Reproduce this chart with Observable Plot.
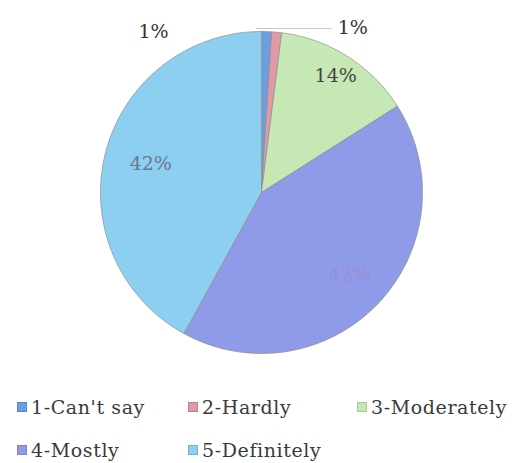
<!DOCTYPE html>
<html><head><meta charset="utf-8">
<script src="https://cdn.jsdelivr.net/npm/d3@7"></script>
<script src="https://cdn.jsdelivr.net/npm/@observablehq/plot@0.6"></script>
<style>
body{margin:0;background:#fff;font-family:"DejaVu Serif",serif}
#legend{position:relative;width:518px;height:78px}
.item{position:absolute;font-size:19px;letter-spacing:0.6px;color:#3a3a3a;display:flex;align-items:center;white-space:nowrap;line-height:20px}
.sw{width:10px;height:10px;margin-right:4px;box-sizing:border-box;border:1px solid rgba(0,0,0,0.15)}
</style></head><body>
<div id="chart"></div><div id="legend"></div>
<script>
const categories = ["1-Can't say","2-Hardly","3-Moderately","4-Mostly","5-Definitely"];
const values = [1, 1, 14, 42, 42];
const labels = ["1%", "1%", "14%", "42%", "42%"];
const colors = ["#6c9fe0", "#e09aa6", "#c6e8b4", "#8f9ae8", "#8ccff0"];
const labelColors = ["#333", "#333", "#444", "#9a8fcf", "#6a7890"];

// label placement (radius as fraction of pie radius; angle override in degrees for outside labels)
const labelRadius = [1.2, 1.17, 0.86, 0.75, 0.71];
const labelAngle = [-34, 29, null, null, null];

const data = categories.map((c, i) => ({cat: c, value: values[i], label: labels[i]}));
const arcs = d3.pie().sort(null).value(d => d.value)(data);

const pts = [];
arcs.forEach(a => {
  pts.push({cat: a.data.cat, x: 0, y: 0});
  const n = Math.max(2, Math.ceil((a.endAngle - a.startAngle) / 0.01));
  for (let k = 0; k <= n; k++) {
    const t = a.startAngle + (a.endAngle - a.startAngle) * k / n;
    pts.push({cat: a.data.cat, x: Math.sin(t), y: Math.cos(t)});
  }
  pts.push({cat: a.data.cat, x: 0, y: 0});
});

const labelData = arcs.map((a, i) => {
  const t = labelAngle[i] != null ? labelAngle[i] * Math.PI / 180 : (a.startAngle + a.endAngle) / 2;
  return {label: a.data.label, x: labelRadius[i] * Math.sin(t), y: labelRadius[i] * Math.cos(t), color: labelColors[i]};
});

// leader line from slice 2 edge to its label
const a2 = arcs[1];
const m2 = (a2.startAngle + a2.endAngle) / 2;
const leader = [
  {x: Math.sin(m2) - 0.127, y: labelData[1].y - 0.005},
  {x: labelData[1].x - 0.13, y: labelData[1].y - 0.005}
];

const chart = Plot.plot({
  width: 518,
  height: 385,
  margin: 0,
  x: {domain: [-1, 1], range: [100, 422], axis: null},
  y: {domain: [-1, 1], range: [353, 31], axis: null},
  color: {domain: categories, range: colors},
  marks: [
    Plot.line(pts, {x: "x", y: "y", z: "cat", fill: "cat", stroke: "#8c8c8c", strokeWidth: 0.7, strokeLinejoin: "round"}),
    Plot.line(leader, {x: "x", y: "y", stroke: "#c8c8c8", strokeWidth: 1}),
    Plot.text(labelData, {x: "x", y: "y", text: "label", fill: d => d.color, fontSize: 19, fontFamily: "DejaVu Serif"})
  ]
});
document.getElementById("chart").appendChild(chart);

const legendPos = [[17, 12], [188, 12], [357, 12], [17, 55], [188, 55]];
const legend = document.getElementById("legend");
categories.forEach((c, i) => {
  const it = document.createElement("div");
  it.className = "item";
  it.style.left = legendPos[i][0] + "px";
  it.style.top = legendPos[i][1] + "px";
  const sw = document.createElement("span");
  sw.className = "sw";
  sw.style.background = colors[i];
  it.appendChild(sw);
  it.appendChild(document.createTextNode(c));
  legend.appendChild(it);
});
</script>
</body></html>
